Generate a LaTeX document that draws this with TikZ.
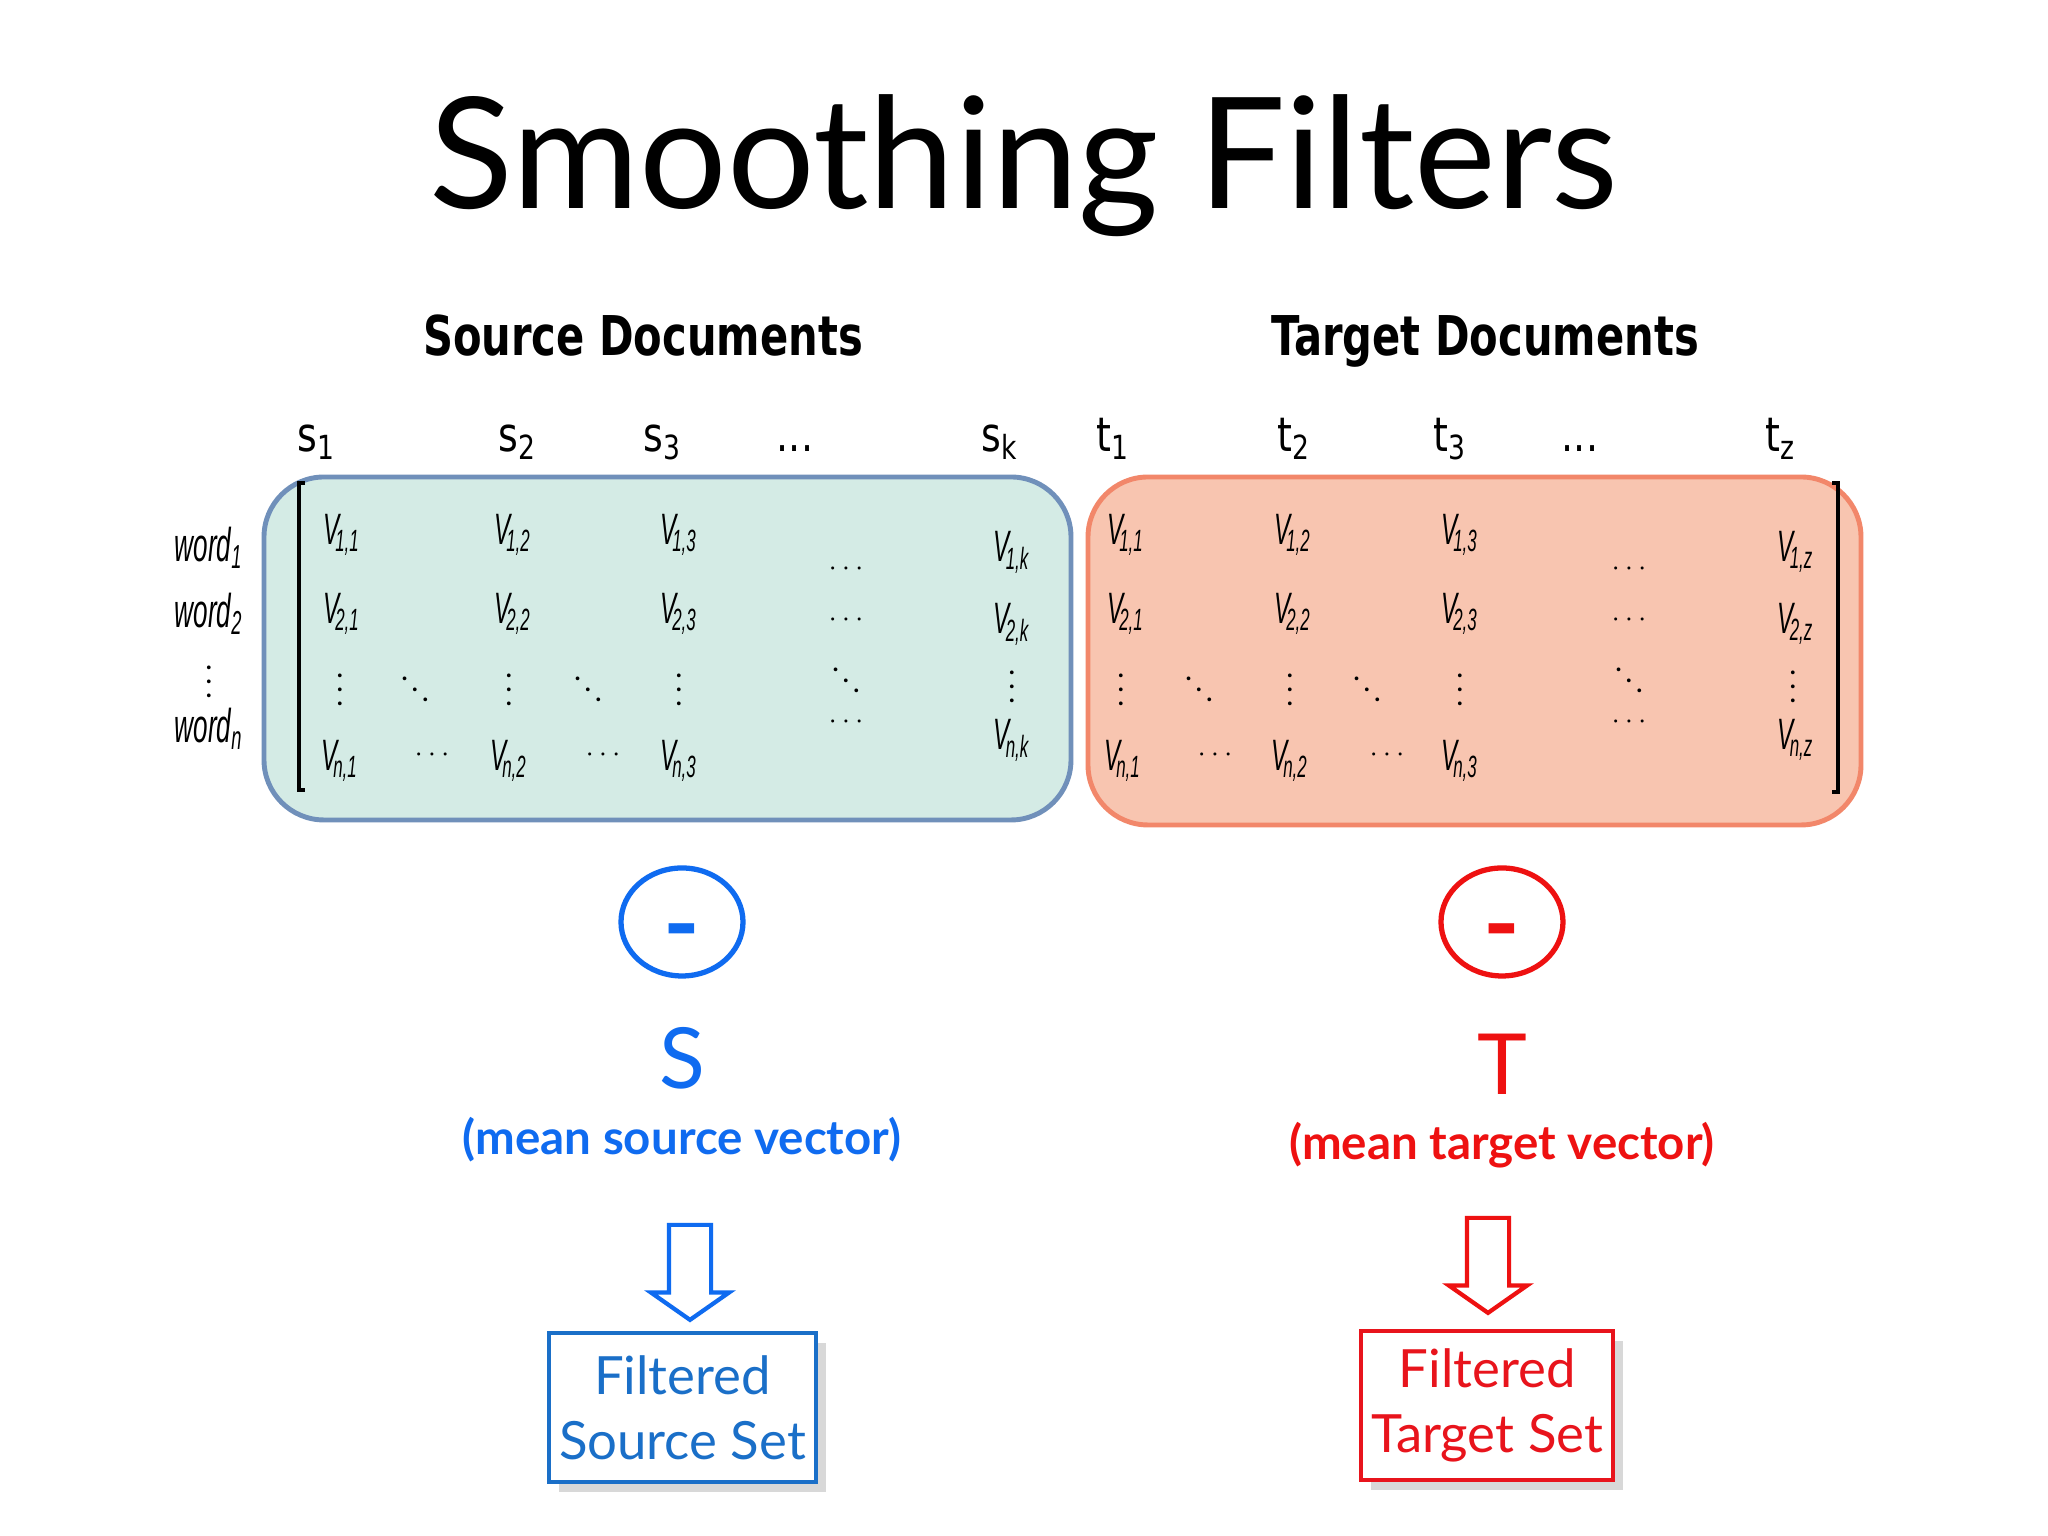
\documentclass[tikz,border=0pt]{standalone}
\usepackage{fontspec}
\setmainfont{Lato}
\newfontfamily\headfont[FakeStretch=0.76]{DejaVu Sans}
\newfontfamily\colfont[FakeStretch=0.8]{DejaVu Sans}
\newfontfamily\entfont[FakeStretch=0.55]{Liberation Sans}
\usetikzlibrary{shapes,arrows,positioning,calc,shadows,arrows.meta}

\definecolor{srcblue}{HTML}{0F6BF0}
\definecolor{srcbox}{HTML}{1A6FC8}
\definecolor{tgtred}{HTML}{EE1111}
\definecolor{tgtbox}{HTML}{E8141C}
\definecolor{tealfill}{HTML}{D4EBE5}
\definecolor{tealline}{HTML}{7090BA}
\definecolor{peachfill}{HTML}{F8C5B0}
\definecolor{peachline}{HTML}{F2876A}

\newcommand{\ventry}[1]{V\kern-1.2pt\textsubscript{#1}}

\begin{document}
\begin{tikzpicture}[
    title/.style={anchor=base, font={\fontsize{44}{50}\selectfont}},
    heading/.style={anchor=base, font={\headfont\bfseries\fontsize{15.6}{18}\selectfont}},
    colhead/.style={anchor=base, inner sep=0pt, font={\colfont\fontsize{13.5}{16}\selectfont}},
    entry/.style={inner sep=0pt, font={\entfont\itshape\fontsize{12.5}{14}\selectfont}},
    rowlab/.style={inner sep=0pt, font={\entfont\itshape\fontsize{13.5}{15}\selectfont}},
    dotsym/.style={inner sep=0pt, font={\fontsize{8.5}{10}\selectfont}},
    panel/.style={rounded corners=0.6cm, line width=1.4pt},
    minus/.style={ellipse, line width=1.5pt, minimum width=1.22cm, minimum height=1.08cm,
        inner sep=0pt, text height=9pt, text depth=0pt, font={\bfseries\fontsize{28}{30}\selectfont}},
    letter/.style={font={\fontsize{24}{28}\selectfont}},
    meanlab/.style={font={\bfseries\fontsize{13.5}{16}\selectfont}},
    blockarr/.style={single arrow, shape border rotate=270, fill=white, line width=1.2pt,
        minimum height=0.95cm, inner sep=0.19cm, single arrow head extend=0.18cm,
        single arrow tip angle=110},
    result/.style={draw, line width=1pt, fill=white, align=center, inner sep=0pt,
        minimum height=1.49cm, font={\fontsize{15}{18.5}\selectfont},
        drop shadow={opacity=0.3, shadow xshift=0.1cm, shadow yshift=-0.1cm}}
]
    \useasboundingbox (0,0) rectangle (20.48,15.36);
    \fill[white] (0,0) rectangle (20.48,15.36);

    \node[title] (ttl) at (10.24,13.27) {Smoothing Filters};
    \node[heading] (hsrc) at (6.43,11.80) {Source Documents};
    \node[heading] (htgt) at (14.85,11.80) {Target Documents};

    % panels and brackets
    \draw[panel, draw=tealline, fill=tealfill] (2.64,7.16) rectangle (10.71,10.59);
    \draw[panel, draw=peachline, fill=peachfill] (10.88,7.11) rectangle (18.61,10.59);
    \draw[line width=1pt] (3.05,10.53) -- (2.99,10.53) -- (2.99,7.46) -- (3.05,7.46);
    \draw[line width=1pt] (18.32,10.53) -- (18.38,10.53) -- (18.38,7.44) -- (18.32,7.44);

    % column heads
    \node[colhead] (s1) at (3.17,10.84) {s\textsubscript{1}};
    \node[colhead] (s2) at (5.18,10.84) {s\textsubscript{2}};
    \node[colhead] (s3) at (6.63,10.84) {s\textsubscript{3}};
    \node[colhead] (sdots) at (7.95,10.84) {...};
    \node[colhead] (sk) at (10.00,10.84) {s\textsubscript{k}};
    \node[colhead] (t1) at (11.13,10.84) {t\textsubscript{1}};
    \node[colhead] (t2) at (12.94,10.84) {t\textsubscript{2}};
    \node[colhead] (t3) at (14.50,10.84) {t\textsubscript{3}};
    \node[colhead] (tdots) at (15.80,10.84) {...};
    \node[colhead] (tz) at (17.81,10.84) {t\textsubscript{z}};

    % row labels
    \node[rowlab] (w1) at (2.09,9.88) {word\textsubscript{1}};
    \node[rowlab] (w2) at (2.09,9.22) {word\textsubscript{2}};
    \node[dotsym] (wv) at (2.09,8.65) {$\vdots$};
    \node[rowlab] (wn) at (2.09,8.07) {word\textsubscript{n}};

    % source matrix
    \node[entry] (sv11) at (3.42,10.01) {\ventry{1,1}};
    \node[entry] (sv12) at (5.13,10.01) {\ventry{1,2}};
    \node[entry] (sv13) at (6.79,10.01) {\ventry{1,3}};
    \node[dotsym] (sd1) at (8.46,9.67) {$\cdots$};
    \node[entry] (sv1k) at (10.12,9.84) {\ventry{1,k}};
    \node[entry] (sv21) at (3.42,9.22) {\ventry{2,1}};
    \node[entry] (sv22) at (5.13,9.22) {\ventry{2,2}};
    \node[entry] (sv23) at (6.79,9.22) {\ventry{2,3}};
    \node[dotsym] (sd2) at (8.46,9.16) {$\cdots$};
    \node[entry] (sv2k) at (10.12,9.12) {\ventry{2,k}};
    \node[dotsym] (svd1) at (3.40,8.57) {$\vdots$};
    \node[dotsym] (sdd1) at (4.15,8.57) {$\ddots$};
    \node[dotsym] (svd2) at (5.09,8.57) {$\vdots$};
    \node[dotsym] (sdd2) at (5.88,8.57) {$\ddots$};
    \node[dotsym] (svd3) at (6.79,8.57) {$\vdots$};
    \node[dotsym] (sdd3) at (8.46,8.66) {$\ddots$};
    \node[dotsym] (svdk) at (10.12,8.60) {$\vdots$};
    \node[dotsym] (sd4) at (8.46,8.14) {$\cdots$};
    \node[entry] (svn1) at (3.40,7.75) {\ventry{n,1}};
    \node[dotsym] (sc1) at (4.32,7.81) {$\cdots$};
    \node[entry] (svn2) at (5.09,7.75) {\ventry{n,2}};
    \node[dotsym] (sc2) at (6.03,7.81) {$\cdots$};
    \node[entry] (svn3) at (6.79,7.75) {\ventry{n,3}};
    \node[entry] (svnk) at (10.12,7.96) {\ventry{n,k}};

    % target matrix
    \node[entry] (tv11) at (11.26,10.01) {\ventry{1,1}};
    \node[entry] (tv12) at (12.93,10.01) {\ventry{1,2}};
    \node[entry] (tv13) at (14.60,10.01) {\ventry{1,3}};
    \node[dotsym] (td1) at (16.29,9.67) {$\cdots$};
    \node[entry] (tv1z) at (17.96,9.84) {\ventry{1,z}};
    \node[entry] (tv21) at (11.26,9.22) {\ventry{2,1}};
    \node[entry] (tv22) at (12.93,9.22) {\ventry{2,2}};
    \node[entry] (tv23) at (14.60,9.22) {\ventry{2,3}};
    \node[dotsym] (td2) at (16.29,9.16) {$\cdots$};
    \node[entry] (tv2z) at (17.96,9.12) {\ventry{2,z}};
    \node[dotsym] (tvd1) at (11.21,8.57) {$\vdots$};
    \node[dotsym] (tdd1) at (11.99,8.57) {$\ddots$};
    \node[dotsym] (tvd2) at (12.90,8.57) {$\vdots$};
    \node[dotsym] (tdd2) at (13.67,8.57) {$\ddots$};
    \node[dotsym] (tvd3) at (14.60,8.57) {$\vdots$};
    \node[dotsym] (tdd3) at (16.29,8.66) {$\ddots$};
    \node[dotsym] (tvdz) at (17.93,8.60) {$\vdots$};
    \node[dotsym] (td4) at (16.29,8.14) {$\cdots$};
    \node[entry] (tvn1) at (11.23,7.75) {\ventry{n,1}};
    \node[dotsym] (tc1) at (12.15,7.81) {$\cdots$};
    \node[entry] (tvn2) at (12.90,7.75) {\ventry{n,2}};
    \node[dotsym] (tc2) at (13.87,7.81) {$\cdots$};
    \node[entry] (tvn3) at (14.60,7.75) {\ventry{n,3}};
    \node[entry] (tvnz) at (17.96,7.96) {\ventry{n,z}};

    % mean vectors
    \node[minus, draw=srcblue, text=srcblue] (ms) at (6.82,6.14) {\raisebox{-6pt}{-}};
    \node[minus, draw=tgtred, text=tgtred] (mt) at (15.02,6.14) {\raisebox{-6pt}{-}};
    \node[letter, text=srcblue] (ls) at (6.82,4.78) {S};
    \node[letter, text=tgtred] (lt) at (15.02,4.72) {T};
    \node[meanlab, text=srcblue] (vs) at (6.82,3.96) {(mean source vector)};
    \node[meanlab, text=tgtred] (vt) at (15.02,3.91) {(mean target vector)};

    % filtered sets
    \node[blockarr, draw=srcblue] (as) at (6.90,2.71) {};
    \node[blockarr, draw=tgtred] (at) at (14.88,2.78) {};
    \node[result, draw=srcbox, text=srcbox, minimum width=2.67cm] (fs) at (6.825,1.285) {Filtered\\Source Set};
    \node[result, draw=tgtbox, text=tgtbox, minimum width=2.52cm] (ft) at (14.87,1.305) {Filtered\\Target Set};
\end{tikzpicture}
\end{document}
